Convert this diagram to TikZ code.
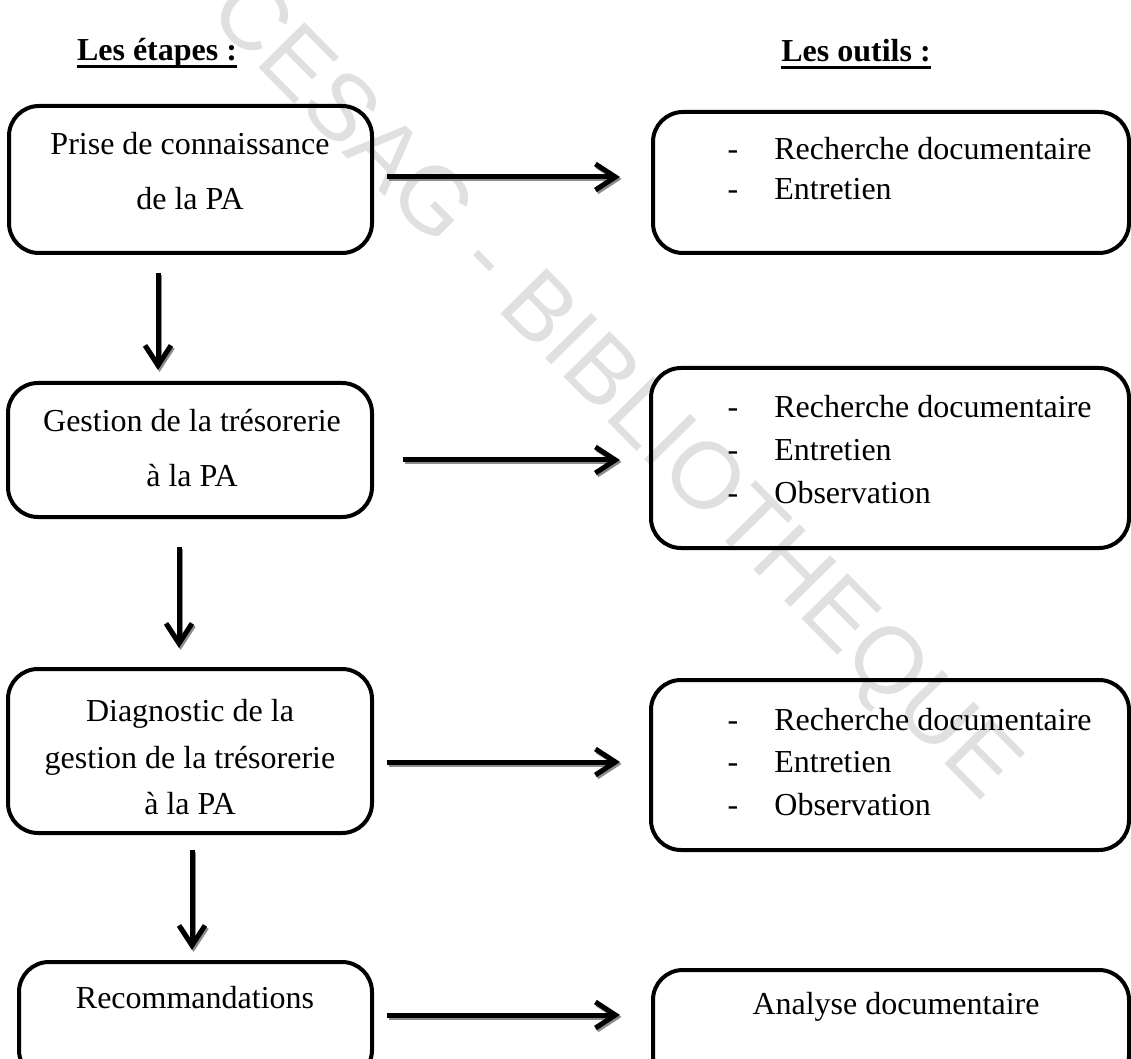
\documentclass[tikz,border=0pt]{standalone}
\usepackage{fontspec}
\setmainfont{Liberation Serif}
\newfontfamily\wmfont{Liberation Sans}
\usetikzlibrary{arrows.meta}
\definecolor{wmgray}{RGB}{224,224,224}
\definecolor{shadowgray}{RGB}{140,140,140}
\begin{document}
\begin{tikzpicture}[x=0.5pt,y=-0.5pt,
  box/.style={draw=black, line width=2pt, rounded corners=15pt, inner sep=0pt},
  txt/.style={anchor=base, inner sep=0pt, font=\fontsize{16pt}{19pt}\selectfont},
  hdr/.style={anchor=base, inner sep=0pt, font=\fontsize{16pt}{19pt}\selectfont\bfseries},
  uline/.style={line width=1.6pt},
  arr/.style={line width=2.5pt, -{Straight Barb[length=10pt,width=13pt]}},
  arrsh/.style={arr, draw=shadowgray, transform canvas={shift={(0.8pt,-1pt)}}},
  wm/.style={font=\wmfont\fontsize{47pt}{50pt}\selectfont, text=wmgray, inner sep=0pt}
]
\useasboundingbox (0,0) rectangle (1131,1059);

% watermark
\node[wm, rotate=-45.4] (wm) at (612,392) {CESAG - BIBLIOTHEQUE};

% headers
\node[hdr] (hdrL) at (157,61) {Les étapes :};
\node[hdr] (hdrR) at (856,62) {Les outils :};
\draw[uline] ([yshift=-2.6pt]hdrL.base west) -- ([yshift=-2.6pt]hdrL.base east);
\draw[uline] ([yshift=-2.6pt]hdrR.base west) -- ([yshift=-2.6pt]hdrR.base east);

% left boxes
\node[box, minimum width=181.5pt, minimum height=73.5pt] (L1) at (190.5,179.5) {};
\node[box, minimum width=182pt, minimum height=67pt] (L2) at (190,450) {};
\node[box, minimum width=182pt, minimum height=82pt] (L3) at (190,751) {};
\node[box, minimum width=176.5pt, minimum height=59pt] (L4) at (195.5,1021) {};

% right boxes
\node[box, minimum width=238pt, minimum height=70.5pt] (R1) at (891,182.5) {};
\node[box, minimum width=239pt, minimum height=90pt] (R2) at (890,458) {};
\node[box, minimum width=239pt, minimum height=85pt] (R3) at (890,765) {};
\node[box, minimum width=238pt, minimum height=57.5pt] (R4) at (891,1027.5) {};

% left texts
\node[txt] (L1a) at (190,155) {Prise de connaissance};
\node[txt] (L1b) at (190,210) {de la PA};
\node[txt] (L2a) at (192,431) {Gestion de la trésorerie};
\node[txt] (L2b) at (192,487) {à la PA};
\node[txt] (L3a) at (190,721) {Diagnostic de la};
\node[txt] (L3b) at (190,768) {gestion de la trésorerie};
\node[txt] (L3c) at (190,814) {à la PA};
\node[txt] (L4a) at (195,1008) {Recommandations};

% right texts
\node[txt] (R1d1) at (733,160) {-};
\node[txt, anchor=base west] (R1a) at (774,160) {Recherche documentaire};
\node[txt] (R1d2) at (733,200) {-};
\node[txt, anchor=base west] (R1b) at (774,200) {Entretien};

\node[txt] (R2d1) at (733,418) {-};
\node[txt, anchor=base west] (R2a) at (774,418) {Recherche documentaire};
\node[txt] (R2d2) at (733,460) {-};
\node[txt, anchor=base west] (R2b) at (774,460) {Entretien};
\node[txt] (R2d3) at (733,503) {-};
\node[txt, anchor=base west] (R2c) at (774,503) {Observation};

\node[txt] (R3d1) at (733,730) {-};
\node[txt, anchor=base west] (R3a) at (774,730) {Recherche documentaire};
\node[txt] (R3d2) at (733,772) {-};
\node[txt, anchor=base west] (R3b) at (774,772) {Entretien};
\node[txt] (R3d3) at (733,815) {-};
\node[txt, anchor=base west] (R3c) at (774,815) {Observation};

\node[txt] (R4a) at (896,1014) {Analyse documentaire};

% arrow end points
\coordinate (h1s) at (387,177);  \coordinate (h1e) at (620,177);
\coordinate (h2s) at (403,460);  \coordinate (h2e) at (620,460);
\coordinate (h3s) at (387,762);  \coordinate (h3e) at (620,762);
\coordinate (h4s) at (387,1015); \coordinate (h4e) at (620,1015);
\coordinate (v1s) at (158,273);  \coordinate (v1e) at (158,370);
\coordinate (v2s) at (179,547);  \coordinate (v2e) at (179,648);
\coordinate (v3s) at (192,850);  \coordinate (v3e) at (192,950);

% shadows
\foreach \a in {h1,h2,h3,h4,v1,v2,v3}{
  \draw[arrsh] (\a s) -- (\a e);
}
% arrows
\foreach \a in {h1,h2,h3,h4,v1,v2,v3}{
  \draw[arr] (\a s) -- (\a e);
}
\end{tikzpicture}
\end{document}
